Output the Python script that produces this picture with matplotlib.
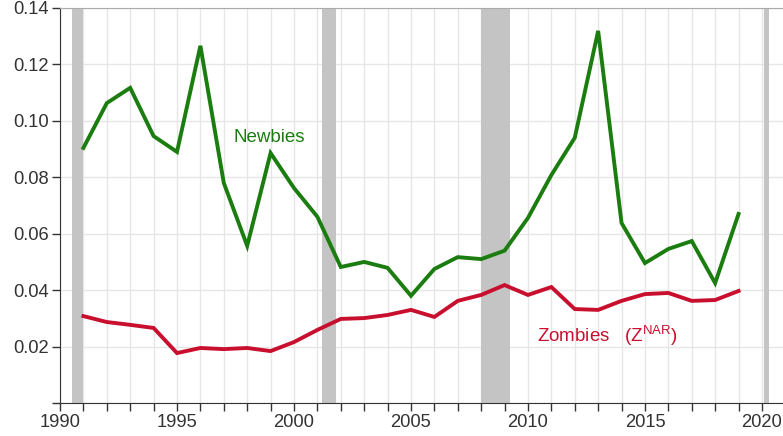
import matplotlib
matplotlib.use("Agg")
import matplotlib.pyplot as plt
import numpy as np

years = list(range(1991, 2020))
newbies = [0.0904, 0.1063, 0.1117, 0.0946, 0.0890, 0.1266, 0.0780, 0.0557, 0.0886, 0.0762,
           0.0660, 0.0482, 0.0500, 0.0479, 0.0380, 0.0475, 0.0517, 0.0510, 0.0540, 0.0656,
           0.0808, 0.0940, 0.1319, 0.0638, 0.0496, 0.0546, 0.0574, 0.0425, 0.0670]
zombies = [0.0308, 0.0287, 0.0277, 0.0266, 0.0177, 0.0195, 0.0191, 0.0195, 0.0184, 0.0216,
           0.0259, 0.0298, 0.0301, 0.0312, 0.0330, 0.0305, 0.0362, 0.0383, 0.0418, 0.0383,
           0.0411, 0.0333, 0.0330, 0.0362, 0.0386, 0.0390, 0.0362, 0.0365, 0.0397]
recessions = [(1990.5, 1991.0), (2001.2, 2001.8), (2008.0, 2009.25), (2020.1, 2020.3)]
yticks = [0.0, 0.02, 0.04, 0.06, 0.08, 0.10, 0.12, 0.14]
ytick_labels = ["", "0.02", "0.04", "0.06", "0.08", "0.10", "0.12", "0.14"]
xticks = [1990, 1995, 2000, 2005, 2010, 2015, 2020]

plt.rcParams['font.family'] = ['Liberation Sans', 'DejaVu Sans']
fig = plt.figure(figsize=(7.83, 4.36), dpi=100)
ax = fig.add_axes([60/783, 33/436, 723/783, 395/436])

green = '#1b7d0f'
red = '#c8102e'
for a, b in recessions:
    ax.axvspan(a, b, color='#c4c4c4', lw=0, zorder=1)
ax.plot(years, newbies, color=green, lw=2.8, zorder=3, solid_joinstyle='miter')
ax.plot(years, zombies, color=red, lw=2.8, zorder=3, solid_joinstyle='miter')

ax.set_xlim(1990, 2020.9)
ax.set_ylim(0, 0.14)
ax.set_xticks(xticks)
ax.set_xticks(range(1990, 2021), minor=True)
ax.set_yticks(yticks)
ax.set_yticklabels(ytick_labels)
ax.grid(True, which='both', color='#e6e6e6', lw=1, zorder=0)
ax.set_axisbelow(True)
ax.tick_params(axis='both', which='major', labelsize=13.2, colors='#333333', direction='out', length=6, width=1, pad=2)
ax.tick_params(axis='x', which='minor', direction='out', length=6, width=1, colors='#333333')
for s in ['left', 'bottom']:
    ax.spines[s].set_color('#333333')
ax.spines['top'].set_color('#aaaaaa')
ax.spines['right'].set_visible(False)

ax.text(1998.95, 0.0940, 'Newbies', color=green, fontsize=13.5, ha='center', va='center')
ax.text(2013.4, 0.0240, r'Zombies   (Z$^{\mathregular{NAR}}$)', color=red, fontsize=13.5, ha='center', va='center')

fig.savefig('out.png', dpi=100)
